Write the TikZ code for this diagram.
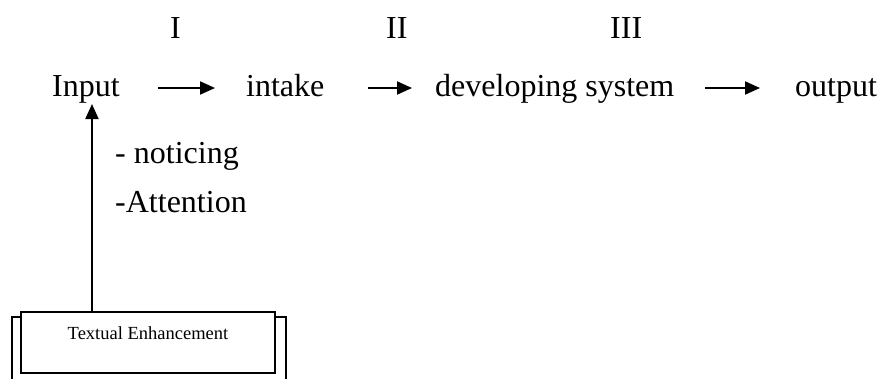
\documentclass[tikz,border=0pt]{standalone}
\usepackage{fontspec}
\setmainfont{Liberation Serif}
\usetikzlibrary{arrows.meta,calc}
\tikzset{
  lbl/.style={inner sep=0pt, anchor=base west, font=\fontsize{32}{38}\selectfont},
  arr/.style={line width=2pt, -{Triangle[length=15pt,width=13pt]}},
  frame/.style={draw, line width=2pt}
}
\begin{document}
\begin{tikzpicture}[x=1pt,y=-1pt]
\useasboundingbox (0,0) rectangle (880,378);
\clip (0,0) rectangle (880,378);
% stage numbers
\node[lbl] (s1) at (170,38) {I};
\node[lbl] (s2) at (386,38) {II};
\node[lbl] (s3) at (610,38) {III};
% main chain
\node[lbl] (input) at (52,96) {Input};
\node[lbl] (intake) at (246,96) {intake};
\node[lbl] (dev) at (435,96) {developing system};
\node[lbl] (output) at (795,96) {output};
\draw[arr] ($(input.base east)+(38,-8)$) -- ($(intake.base west)+(-31,-8)$);
\draw[arr] ($(intake.base east)+(43,-8)$) -- ($(dev.base west)+(-23,-8)$);
\draw[arr] ($(dev.base east)+(31,-8)$) -- ($(output.base west)+(-35,-8)$);
% side labels
\node[lbl] (notice) at (115,163) {- noticing};
\node[lbl] (attn) at (115,212) {-Attention};
% stacked box
\draw[frame] (12,400) -- (12,317) -- (286,317) -- (286,400);
\node[frame, fill=white, anchor=base, inner xsep=0pt, inner ysep=0pt,
      minimum width=254pt, text height=27pt, text depth=34pt,
      font=\fontsize{18.5}{22}\selectfont] (tebox) at (148,339) {Textual Enhancement};
% pointer into the input
\coordinate (ptr) at ($(input.south)+(6,1)$);
\draw[arr] (ptr |- tebox.north) -- (ptr);
\end{tikzpicture}
\end{document}
